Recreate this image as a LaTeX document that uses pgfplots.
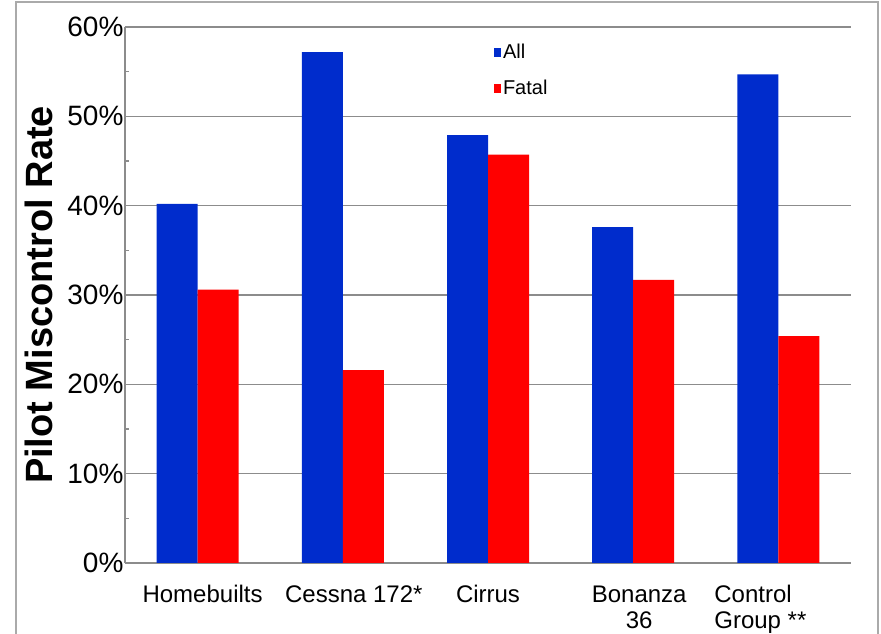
\documentclass[border=0pt]{standalone}
\usepackage{pgfplots}
\pgfplotsset{compat=1.18}
\usepackage{fontspec}
\setmainfont{Liberation Sans}
\definecolor{barblue}{RGB}{0,44,204}
\definecolor{barred}{RGB}{255,0,0}
\definecolor{axgray}{RGB}{140,140,140}
\definecolor{framegray}{RGB}{170,170,170}
\begin{document}
\begin{tikzpicture}[x=1pt,y=1pt]
\useasboundingbox (0,0) rectangle (881,634);
\draw[framegray, line width=1.2pt] (16,-10) rectangle (878,632);
\begin{axis}[
  at={(125pt,71pt)}, anchor=south west,
  scale only axis, width=726pt, height=536pt,
  ybar=0pt, bar width=41pt,
  xmin=-0.5, xmax=4.5, ymin=0, ymax=60,
  axis x line*=bottom, axis y line*=left,
  axis line style={axgray, line width=1.3pt},
  xtick={0,1,2,3,4},
  xticklabels={{\hspace*{10pt}Homebuilts}, {\hspace*{22pt}Cessna 172*}, Cirrus,
    {\hspace*{12pt}\begin{tabular}[t]{@{}c@{}}Bonanza\\36\end{tabular}},
    {\hspace*{-36pt}\begin{tabular}[t]{@{}l@{}}Control\\Group **\end{tabular}}},
  x tick label style={font=\fontsize{24}{26}\selectfont, anchor=base, yshift=-35pt},
  major x tick style={draw=none},
  extra x ticks={0.5,1.5,2.5,3.5,4.5},
  extra x tick labels={},
  extra x tick style={major tick length=7pt, tick style={axgray, line width=1.3pt}, tick align=outside},
  ytick={0,10,...,60},
  minor y tick num=1,
  yticklabel={\pgfmathprintnumber{\tick}\%},
  y tick label style={font=\fontsize{28}{30}\selectfont, xshift=2pt},
  /pgf/number format/assume math mode=true,
  ytick style={axgray, line width=1.3pt},
  major tick length=5pt, minor tick length=4pt,
  ymajorgrids, grid style={axgray, line width=1.3pt},
  ylabel={\bfseries Pilot Miscontrol Rate},
  ylabel style={font=\fontsize{38}{42}\selectfont, at={(axis description cs:-0.118,0.5)}, anchor=center},
  legend style={draw=none, fill=none, at={(axis description cs:0.508,0.972)}, anchor=north west,
    font=\fontsize{20}{23}\selectfont, row sep=16pt, inner sep=0pt},
  legend cell align=left,
  legend image code/.code={\fill[#1] (0pt,-4.5pt) rectangle (7pt,4.5pt);},
]
\addplot[fill=barblue, draw=none] coordinates {(0,40.2) (1,57.2) (2,47.9) (3,37.6) (4,54.7)};
\addplot[fill=barred, draw=none] coordinates {(0,30.6) (1,21.6) (2,45.7) (3,31.7) (4,25.4)};
\legend{All, Fatal}
\end{axis}
\end{tikzpicture}
\end{document}
